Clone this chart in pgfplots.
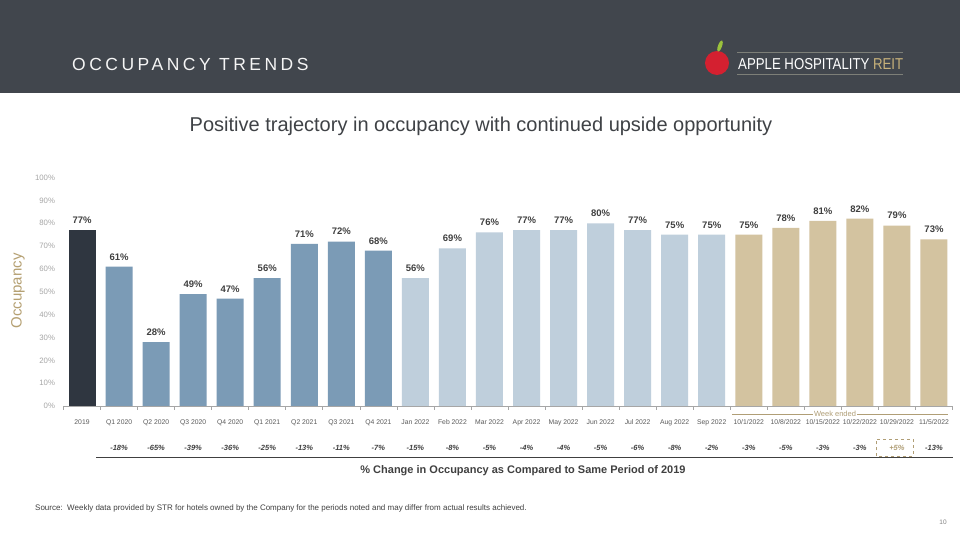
\documentclass[border=0pt]{standalone}
\usepackage{graphicx}
\usepackage{pgfplots}
\pgfplotsset{compat=1.18}
\usepackage{fontspec}
\setmainfont{Liberation Sans}
\newfontfamily\spaced[LetterSpace=20]{Liberation Sans}
\definecolor{header}{HTML}{41464D}
\definecolor{titlegray}{HTML}{3F4246}
\definecolor{dgray}{HTML}{404040}
\definecolor{tickgray}{HTML}{5A5A5A}
\definecolor{ylabgray}{HTML}{A6A6A6}
\definecolor{axisgray}{HTML}{A6A6A6}
\definecolor{cA}{HTML}{2F3640}
\definecolor{cQ}{HTML}{7B9BB6}
\definecolor{cM}{HTML}{BFCFDC}
\definecolor{cW}{HTML}{D3C3A0}
\definecolor{tanc}{HTML}{B09E76}
\definecolor{occgold}{HTML}{B5A072}
\definecolor{applered}{HTML}{D42030}
\definecolor{leaf}{HTML}{9BC23C}
\definecolor{logoline}{HTML}{7D7F78}
\definecolor{reit}{HTML}{C8B27A}
\begin{document}
\begin{tikzpicture}
\begin{scope}[x=1pt,y=1pt]
\useasboundingbox (0,0) rectangle (960,540);
\fill[white] (0,0) rectangle (960,540);
\fill[header] (0,447) rectangle (960,540);
\node[anchor=base west, text=white!92!gray, font=\spaced\fontsize{17.5}{20}\selectfont, inner sep=0pt] at (72,469) {OCCUPANCY TRENDS};
% logo
\fill[applered] (717,477) circle (12);
\fill[leaf, rotate around={-20:(720,494)}] (720,494) ellipse (2 and 6);
\draw[logoline, line width=1pt] (737,487) -- (903,487);
\draw[logoline, line width=1pt] (737,465) -- (903,465);
\node[anchor=south west, inner sep=0pt, text=white] at (738,470) {\resizebox{165pt}{11pt}{APPLE HOSPITALITY \textcolor{reit}{REIT}}};
% title
\node[anchor=base, text=titlegray, font=\fontsize{20}{23}\selectfont] at (481,408) {Positive trajectory in occupancy with continued upside opportunity};
\node[rotate=90, font=\fontsize{15}{17}\selectfont, text=occgold] at (18,249) {Occupancy};
\end{scope}
\begin{axis}[
  at={(63.5pt,134pt)}, anchor=south west, scale only axis,
  width=889pt, height=228.4pt,
  xmin=-0.5, xmax=23.5, ymin=0, ymax=100,
  axis x line*=bottom, axis y line*=left,
  y axis line style={draw=none},
  x axis line style={draw=axisgray, line width=0.8pt},
  ytick={0,10,...,100},
  yticklabels={0\%,10\%,20\%,30\%,40\%,50\%,60\%,70\%,80\%,90\%,100\%},
  major tick length=0pt,
  xtick={0,...,23},
  xticklabels={2019,Q1 2020,Q2 2020,Q3 2020,Q4 2020,Q1 2021,Q2 2021,Q3 2021,Q4 2021,Jan 2022,Feb 2022,Mar 2022,Apr 2022,May 2022,Jun 2022,Jul 2022,Aug 2022,Sep 2022,10/1/2022,10/8/2022,10/15/2022,10/22/2022,10/29/2022,11/5/2022},
  minor xtick={-0.5,0.5,...,23.5},
  minor tick length=4pt, xtick align=outside,
  minor tick style={draw=axisgray, line width=0.6pt},
  xticklabel style={font=\fontsize{6.8}{7}\selectfont, text=tickgray, yshift=-10pt},
  yticklabel style={font=\fontsize{7.8}{8}\selectfont, text=ylabgray, xshift=-5pt},
  clip=false,
  ybar, bar width=27pt,
  /pgf/number format/assume math mode=true,
  nodes near coords={\pgfmathprintnumber{\pgfplotspointmeta}\%},
  every node near coord/.append style={font=\bfseries\fontsize{9.5}{11}\selectfont, text=dgray, yshift=3pt},
]
\addplot[fill=cA, draw=none, bar shift=0pt] coordinates {(0,77)};
\addplot[fill=cQ, draw=none, bar shift=0pt] coordinates {(1,61) (2,28) (3,49) (4,47) (5,56) (6,71) (7,72) (8,68)};
\addplot[fill=cM, draw=none, bar shift=0pt] coordinates {(9,56) (10,69) (11,76) (12,77) (13,77) (14,80) (15,77) (16,75) (17,75)};
\addplot[fill=cW, draw=none, bar shift=0pt] coordinates {(18,75) (19,78) (20,81) (21,82) (22,79) (23,73)};
\end{axis}
\begin{scope}[x=1pt,y=1pt]
% week ended bracket
\draw[tanc, line width=0.6pt] (732,125.5) -- (948,125.5);
\node[fill=white, inner sep=0.8pt, text=tanc, font=\fontsize{7.5}{8}\selectfont] at (835,125.8) {Week ended};
% change row
\foreach \i/\v in {1/-18\%,2/-65\%,3/-39\%,4/-36\%,5/-25\%,6/-13\%,7/-11\%,8/-7\%,9/-15\%,10/-8\%,11/-5\%,12/-4\%,13/-4\%,14/-5\%,15/-6\%,16/-8\%,17/-2\%,18/-3\%,19/-5\%,20/-3\%,21/-3\%,23/-13\%}
  \node[font=\bfseries\itshape\fontsize{7.5}{8}\selectfont, text=dgray] at ({63.5+37.0417*(\i+0.5)},92) {\v};
\node[font=\bfseries\itshape\fontsize{7.5}{8}\selectfont, text=tanc] at ({63.5+37.0417*22.5},92) {+5\%};
\draw[tanc, dashed, line width=0.6pt] (876,83.5) rectangle (913,100.5);
\draw[dgray, line width=0.9pt] (96,83) -- (953,83);
\node[font=\bfseries\fontsize{11}{13}\selectfont, text=dgray] at (523,69) {\% Change in Occupancy as Compared to Same Period of 2019};
\node[anchor=base west, inner sep=0pt, font=\fontsize{8}{9}\selectfont, text=dgray] at (35,29) {Source:~~Weekly data provided by STR for hotels owned by the Company for the periods noted and may differ from actual results achieved.};
\node[font=\fontsize{6.5}{7}\selectfont, text=gray] at (943,18) {10};
\end{scope}
\end{tikzpicture}
\end{document}
